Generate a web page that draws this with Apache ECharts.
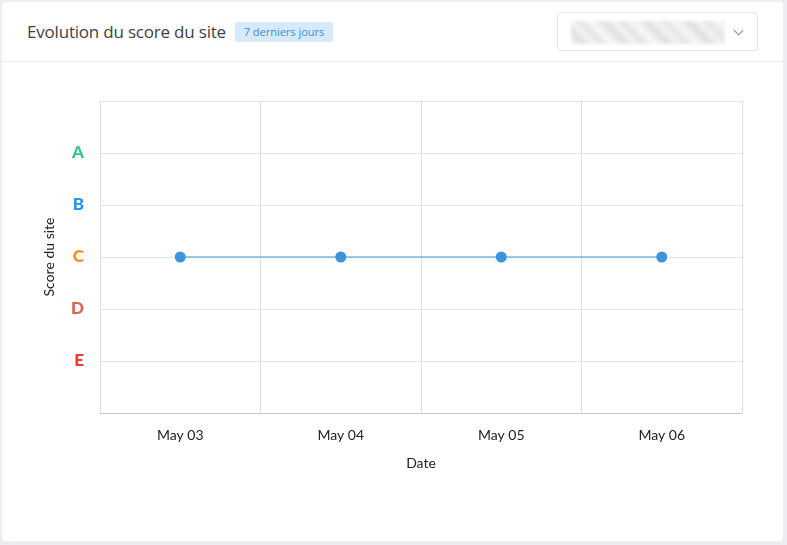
<!DOCTYPE html>
<html><head><meta charset="utf-8">
<script src="https://cdn.jsdelivr.net/npm/echarts@6/dist/echarts.min.js"></script>
<style>
html,body{margin:0;padding:0;width:787px;height:545px;background:#eceef4;overflow:hidden;font-family:Lato,"Open Sans",sans-serif;}
#card{position:absolute;left:2px;top:2px;width:781px;height:539px;background:#fff;border-radius:4px;}
#head{position:absolute;left:0;top:0;width:781px;height:59px;border-bottom:1px solid #ebedf2;}
#title{position:absolute;left:25px;top:18px;font-size:17px;color:#3f4047;font-family:"Open Sans",sans-serif;letter-spacing:-0.2px;}
#badge{position:absolute;left:233px;top:20px;width:98px;height:20px;background:#d6eaf9;color:#3a8fd9;border-radius:3px;font-size:11px;line-height:20px;text-align:center;font-family:"Open Sans",sans-serif;}
#sel{position:absolute;left:555px;top:10px;width:199px;height:37px;border:1px solid #e3e4ec;border-radius:4px;}
#blur{position:absolute;left:13px;top:8px;width:154px;height:23px;background:repeating-linear-gradient(45deg,#f7f7f8 0px,#dcdcde 9px,#f3f3f4 16px,#e2e2e4 22px,#f8f8f9 30px);filter:blur(1.5px);opacity:0.9;}
#chev{position:absolute;left:177px;top:14px;width:6px;height:6px;border-right:1px solid #8a8c99;border-bottom:1px solid #8a8c99;transform:rotate(45deg);}
#chart{position:absolute;left:0;top:0;width:787px;height:545px;}
</style></head>
<body>
<div id="card"><div id="head"><div id="title">Evolution du score du site</div><div id="badge">7 derniers jours</div>
<div id="sel"><div id="blur"></div><div id="chev"></div></div></div></div>
<div id="chart"></div>
<script>
const dates = ['May 03','May 04','May 05','May 06'];
const scoreValues = [3,3,3,3];
const gradeLetters = ['', 'E', 'D', 'C', 'B', 'A', ''];
const gradeColors = {A:'#34c38f',B:'#2196f3',C:'#ff8c1a',D:'#e0604f',E:'#ef3b3b'};

const rich = {};
Object.keys(gradeColors).forEach(k=>{rich[k]={color:gradeColors[k],fontWeight:900,fontSize:17,fontFamily:'Lato, sans-serif'};});

const chart = echarts.init(document.getElementById('chart'));
chart.setOption({
  animation:false,
  grid:{left:100,right:45,top:101,bottom:132},
  xAxis:{type:'category',data:dates,boundaryGap:true,
    name:'Date',nameLocation:'middle',nameGap:43,
    nameTextStyle:{color:'#222',fontSize:14,fontFamily:'Lato, sans-serif'},
    axisLine:{show:true,lineStyle:{color:'#c8c8c8'}},
    axisTick:{show:false},
    axisLabel:{color:'#222',fontSize:14,margin:15,fontFamily:'Lato, sans-serif'},
    splitLine:{show:true,lineStyle:{color:'#e0e0e0'}}
  },
  yAxis:{type:'value',min:0,max:6,interval:1,
    name:'Score du site',nameLocation:'middle',nameGap:44,nameRotate:90,
    nameTextStyle:{color:'#222',fontSize:14,fontFamily:'Lato, sans-serif'},
    axisLine:{show:true,lineStyle:{color:'#e0e0e0'}},
    axisTick:{show:false},
    axisLabel:{margin:16,formatter:function(v){const l=gradeLetters[v];return l?'{'+l+'|'+l+'}':'';},rich:rich},
    splitLine:{show:true,lineStyle:{color:'#e5e5e5'}}
  },
  series:[{type:'line',data:scoreValues,symbol:'circle',symbolSize:11,
    lineStyle:{color:'#3b95dc',width:1},itemStyle:{color:'#3b95dc'}}]
});
</script>
</body></html>
